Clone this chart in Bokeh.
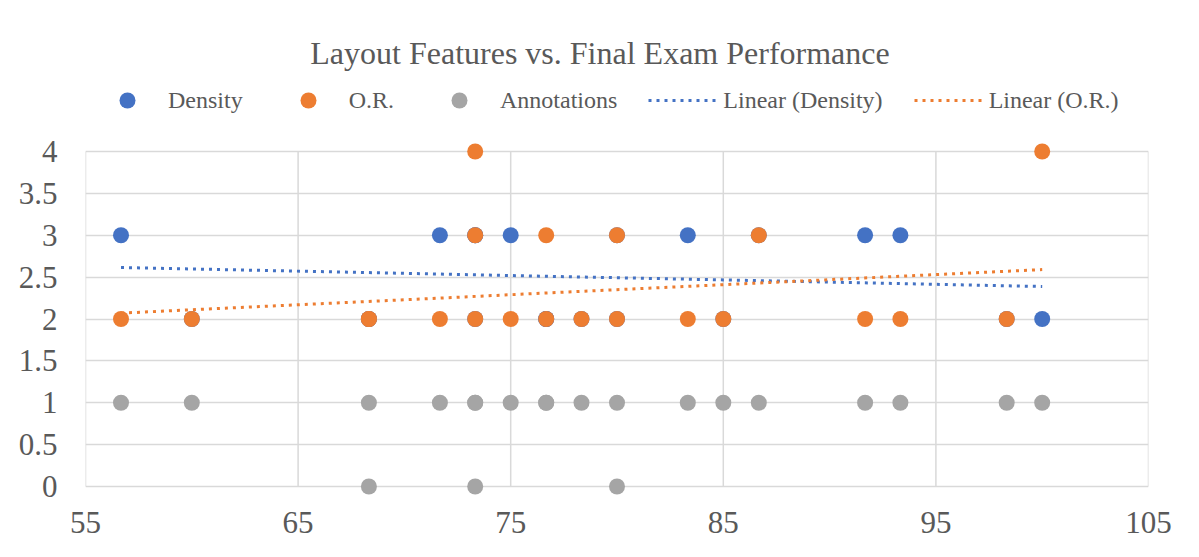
from bokeh.plotting import figure
from bokeh.models import (Range1d, FixedTicker, NumeralTickFormatter, Legend, LegendItem, Label)
from bokeh.embed import file_html
from bokeh.resources import INLINE

# ---- data ----
scores = [56.67, 60.0, 68.33, 68.33, 71.67, 73.33, 73.33, 73.33, 75.0, 76.67, 76.67,
          78.33, 80.0, 80.0, 83.33, 85.0, 86.67, 91.67, 93.33, 98.33, 100.0]
density = [3, 2, 2, 2, 3, 3, 2, 3, 3, 2, 2, 2, 3, 2, 3, 2, 3, 3, 3, 2, 2]
o_r = [2, 2, 2, 2, 2, 4, 3, 2, 2, 3, 2, 2, 3, 2, 2, 2, 3, 2, 2, 2, 4]
annotations = [1, 1, 1, 0, 1, 1, 0, 1, 1, 1, 1, 1, 1, 0, 1, 1, 1, 1, 1, 1, 1]

trend_x = [56.67, 100.0]
trend_density = [2.615, 2.388]
trend_or = [2.07, 2.59]

x_ticks = [55, 65, 75, 85, 95, 105]
y_ticks = [0, 0.5, 1, 1.5, 2, 2.5, 3, 3.5, 4]

title_text = "Layout Features vs. Final Exam Performance"
series_names = ["Density", "O.R.", "Annotations", "Linear (Density)", "Linear (O.R.)"]

BLUE = "#4472C4"
ORANGE = "#ED7D31"
GRAY = "#A5A5A5"
TEXT = "#595959"
GRID = "#D9D9D9"
FONT = "Liberation Serif"

# ---- layout geometry (pixels) ----
W, H = 1183, 541
LEFT, RIGHT = 85, 1148          # x = 55 .. 105
TOP_GRID, ZERO = 151, 486        # y = 4 .. 0
FRAME_BOTTOM = 495               # frame runs a little below y=0 so markers are not cut
ppu = (ZERO - TOP_GRID) / (max(y_ticks) - min(y_ticks))
y_start = min(y_ticks) - (FRAME_BOTTOM - ZERO) / ppu
y_end = max(y_ticks) + TOP_GRID / ppu

p = figure(width=W, height=H, output_backend="svg", toolbar_location=None,
           x_range=Range1d(min(x_ticks), max(x_ticks)), y_range=Range1d(y_start, y_end),
           min_border_left=LEFT, min_border_right=W - RIGHT, min_border_top=0,
           min_border_bottom=H - FRAME_BOTTOM)
p.outline_line_color = None
p.background_fill_color = "white"
p.border_fill_color = "white"

for ax in (p.xaxis[0], p.yaxis[0]):
    ax.major_tick_in = 0
    ax.major_tick_out = 0
    ax.minor_tick_in = 0
    ax.minor_tick_out = 0
    ax.axis_line_color = None
    ax.major_label_text_font = FONT
    ax.major_label_text_font_size = "31px"
    ax.major_label_text_color = TEXT

p.xaxis[0].ticker = FixedTicker(ticks=x_ticks)
p.yaxis[0].ticker = FixedTicker(ticks=y_ticks)
p.yaxis[0].formatter = NumeralTickFormatter(format="0.[0]")
p.xaxis[0].major_label_standoff = 16
p.yaxis[0].major_label_standoff = 28

p.xgrid[0].visible = False
p.ygrid[0].ticker = FixedTicker(ticks=y_ticks)
p.ygrid[0].grid_line_color = GRID
p.ygrid[0].grid_line_width = 1.5

# vertical grid lines (bounded to the 0..4 band)
p.segment(x0=x_ticks, y0=[min(y_ticks)] * len(x_ticks), x1=x_ticks, y1=[max(y_ticks)] * len(x_ticks),
          line_color=GRID, line_width=1.5)

r_d = p.scatter(scores, density, size=16, fill_color=BLUE, line_color=None)
r_o = p.scatter(scores, o_r, size=16, fill_color=ORANGE, line_color=None)
r_a = p.scatter(scores, annotations, size=16, fill_color=GRAY, line_color=None)
r_td = p.line(trend_x, trend_density, line_color=BLUE, line_width=3, line_dash="3 5")
r_to = p.line(trend_x, trend_or, line_color=ORANGE, line_width=3, line_dash="3 5")

legend = Legend(items=[LegendItem(label=series_names[0], renderers=[r_d]),
                       LegendItem(label=series_names[1], renderers=[r_o]),
                       LegendItem(label=series_names[2], renderers=[r_a]),
                       LegendItem(label=series_names[3], renderers=[r_td]),
                       LegendItem(label=series_names[4], renderers=[r_to])],
                orientation="horizontal", location=(93 - LEFT, FRAME_BOTTOM - 120),
                glyph_width=68, glyph_height=40, label_standoff=7, spacing=31,
                padding=0, margin=0, border_line_alpha=0, background_fill_alpha=0,
                label_text_font=FONT, label_text_font_size="24px", label_text_color=TEXT)
p.add_layout(legend, "center")

title = Label(x=599.5 - LEFT, y=FRAME_BOTTOM - 52, x_units="screen", y_units="screen",
              text=title_text, text_align="center", text_baseline="alphabetic",
              text_font=FONT, text_font_size="32px", text_color=TEXT)
p.add_layout(title)

open("out.html", "w").write(file_html(p, INLINE))
